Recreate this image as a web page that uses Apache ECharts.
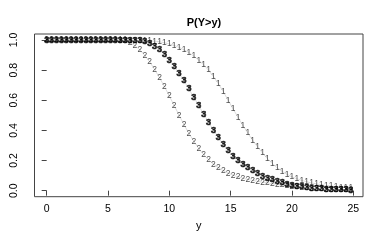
<!DOCTYPE html>
<html><head><meta charset="utf-8">
<script src="https://cdn.jsdelivr.net/npm/echarts@6/dist/echarts.min.js"></script>
<style>html,body{margin:0;padding:0;background:#fff}#c{width:382px;height:240px}</style>
</head><body><div id="c"></div>
<script>
var yValues = [0,0.4,0.8,1.2,1.6,2,2.4,2.8,3.2,3.6,4,4.4,4.8,5.2,5.6,6,6.4,6.8,7.2,7.6,8,8.4,8.8,9.2,9.6,10,10.4,10.8,11.2,11.6,12,12.4,12.8,13.2,13.6,14,14.4,14.8,15.2,15.6,16,16.4,16.8,17.2,17.6,18,18.4,18.8,19.2,19.6,20,20.4,20.8,21.2,21.6,22,22.4,22.8,23.2,23.6,24,24.4,24.8];
var series1 = [1,1,1,1,1,1,1,1,1,1,1,1,1,1,1,1,1,0.999,0.999,0.998,0.997,0.995,0.992,0.988,0.982,0.974,0.964,0.951,0.935,0.916,0.893,0.866,0.835,0.8,0.757,0.71,0.657,0.6,0.543,0.487,0.433,0.382,0.334,0.29,0.25,0.213,0.18,0.152,0.128,0.108,0.092,0.079,0.068,0.059,0.051,0.045,0.039,0.034,0.03,0.026,0.023,0.02,0.018];
var series2 = [1,1,1,1,1,1,1,1,1,1,1,1,1,1,1,0.997,0.993,0.982,0.963,0.935,0.898,0.855,0.805,0.75,0.692,0.628,0.565,0.5,0.438,0.38,0.328,0.28,0.24,0.205,0.176,0.152,0.132,0.116,0.103,0.092,0.083,0.075,0.068,0.062,0.056,0.051,0.046,0.042,0.037,0.033,0.029,0.025,0.022,0.019,0.016,0.014,0.012,0.01,0.008,0.007,0.006,0.005,0.004];
var series3 = [1,1,1,1,1,1,1,1,1,1,1,1,1,1,1,1,1,1,0.999,0.998,0.992,0.98,0.96,0.935,0.902,0.865,0.826,0.78,0.728,0.675,0.62,0.564,0.508,0.454,0.402,0.352,0.306,0.264,0.23,0.2,0.174,0.151,0.131,0.113,0.097,0.083,0.071,0.06,0.051,0.043,0.036,0.03,0.025,0.021,0.017,0.014,0.012,0.01,0.008,0.007,0.006,0.005,0.004];
var xTicks = [0,5,10,15,20,25];
var yTicks = [0,0.2,0.4,0.6,0.8,1.0];
var seriesNames = ['1','2','3'];
var seriesData = [series1, series2, series3];

function pairs(vals){ return yValues.map(function(x,i){ return [x, vals[i]]; }); }
var FONT = 'Liberation Sans, Arial, sans-serif';
var s = [];
seriesData.forEach(function(vals, k){
  s.push({type:'line', data:pairs(vals), symbol:'none', silent:true,
    lineStyle:{color:'#888', width:0.6, type:'dotted'}, z:1});
});
seriesData.forEach(function(vals, k){
  s.push({type:'scatter', data:pairs(vals), symbol:'circle', symbolSize:1, silent:true,
    itemStyle:{color:'rgba(0,0,0,0)'},
    label:{show:true, position:'inside', formatter:seriesNames[k],
      fontFamily:FONT, fontSize: k===2 ? 9 : 8.5,
      fontWeight: k===2 ? 'bold' : 'normal', color: k===2 ? '#000' : '#222',
      textBorderColor: k===2 ? '#000' : 'transparent', textBorderWidth: k===2 ? 0.6 : 0}, z:2});
});

var chart = echarts.init(document.getElementById('c'), null, {renderer:'canvas'});
chart.setOption({
  animation:false,
  backgroundColor:'#fff',
  title:{text:'P(Y>y)', left:199, top:12, textAlign:'center',
    textStyle:{fontFamily:FONT, fontSize:11, fontWeight:'bold', color:'#000'}},
  grid:{left:34.5, right:19, top:34, bottom:43.3, show:true, borderColor:'#444', borderWidth:1, backgroundColor:'transparent'},
  xAxis:{type:'value', min:-0.992, max:25.792, name:'y', nameLocation:'middle', nameGap:24,
    nameTextStyle:{fontFamily:FONT, fontSize:11, color:'#000'},
    axisLine:{show:false}, splitLine:{show:false},
    axisTick:{show:true, length:5, customValues:xTicks, lineStyle:{color:'#444'}},
    axisLabel:{customValues:xTicks, margin:7, fontFamily:FONT, fontSize:10.5, color:'#000'}},
  yAxis:{type:'value', min:-0.04, max:1.04,
    axisLine:{show:false}, splitLine:{show:false},
    axisTick:{show:true, length:5, customValues:yTicks, lineStyle:{color:'#444'}},
    axisLabel:{customValues:yTicks, rotate:90, margin:15, fontFamily:FONT, fontSize:10.5, color:'#000',
      formatter:function(v){return v.toFixed(1);}}},
  series:s
});
</script></body></html>
